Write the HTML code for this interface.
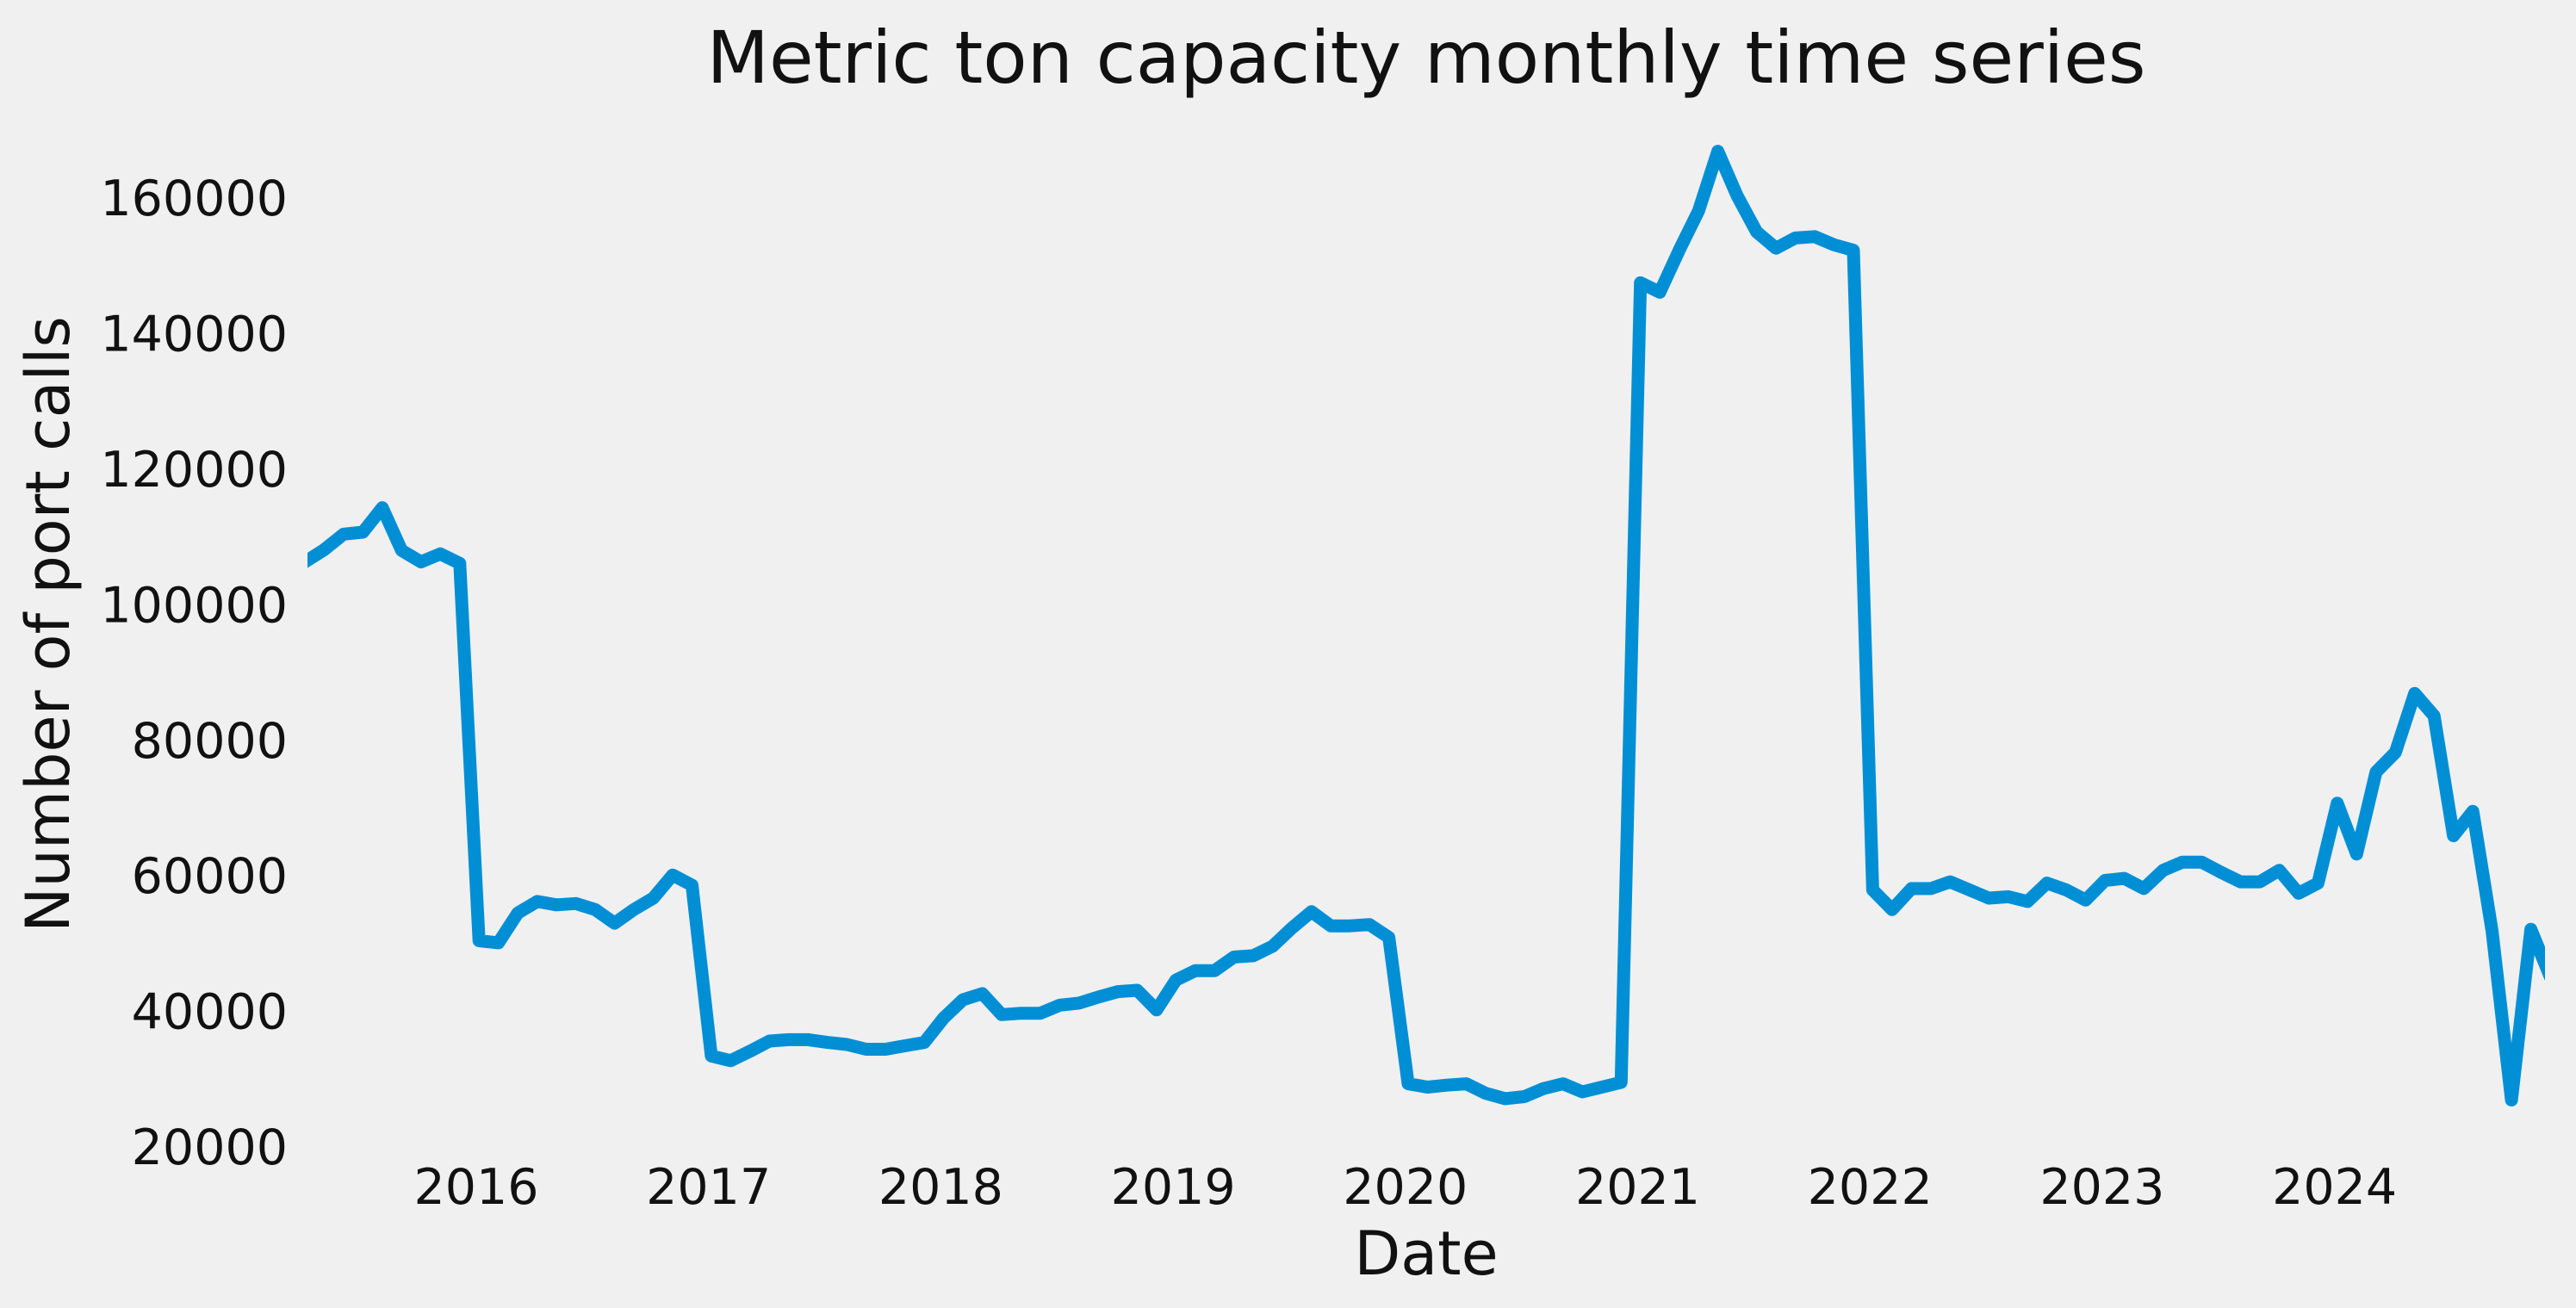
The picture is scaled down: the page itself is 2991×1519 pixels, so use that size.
<!DOCTYPE html>
<html><head><meta charset="utf-8"><style>
html,body{margin:0;padding:0;background:#f0f0f0;}
svg{display:block;font-family:"DejaVu Sans","Liberation Sans",sans-serif;}
</style></head><body>
<svg id="chart" width="2991" height="1519" viewBox="0 0 2991 1519" xmlns="http://www.w3.org/2000/svg">
<rect width="2991" height="1519" fill="#f0f0f0"/>
<text x="1656" y="96" font-size="84" text-anchor="middle" fill="#111">Metric ton capacity monthly time series</text>
<text x="1656" y="1480" font-size="70" text-anchor="middle" fill="#111">Date</text>
<text transform="translate(80,725) rotate(-90)" font-size="70" text-anchor="middle" fill="#111">Number of port calls</text>
<g id="yticks"></g>
<g id="xticks"></g>
<defs><clipPath id="clip"><rect x="357" y="0" width="2598" height="1519"/></clipPath></defs>
<g clip-path="url(#clip)"><path id="series" fill="none" stroke="#008fd5" stroke-width="15" stroke-linejoin="round" stroke-linecap="round"/></g>
</svg>
<script>
// Monthly values starting April 2015
const startYear = 2015;
const startMonth = 3; // 0-based, April
const values = [106200,108000,110300,110600,114200,107900,106200,107400,106000,
50300,50000,54400,56100,55600,55800,54900,52900,54900,56600,60000,58500,
33300,32600,34000,35500,35700,35700,35300,35000,34300,34300,34800,35300,
38900,41600,42500,39400,39600,39600,40800,41100,42000,42800,43000,40100,
44500,45900,45900,47900,48100,49500,52200,54600,52500,52500,52700,50800,
29200,28700,29000,29200,27800,27000,27300,28500,29200,28000,28700,29400,
147400,146000,152200,158000,166800,160200,154900,152500,154000,154200,153000,152200,
57800,54900,58000,58000,59000,57800,56600,56800,56100,58800,57800,56300,
59200,59500,58000,60700,61900,61900,60400,59000,59000,60700,57300,58800,
70600,63100,75200,78100,86800,83500,65800,69400,51700,26800,52000,45000];
const yTickValues = [20000,40000,60000,80000,100000,120000,140000,160000];
const xTickYears = [2016,2017,2018,2019,2020,2021,2022,2023,2024];

const NS = "http://www.w3.org/2000/svg";
function xScale(yearFrac){ return 553 + (yearFrac - 2016) * 269.7; }
function yScale(v){ return 1331 - (v - 20000) / 20000 * 157.4; }
function dateOf(i){ return startYear + (startMonth + i) / 12 + 0.012; }

let d = "";
values.forEach((v,i)=>{ d += (i? "L":"M") + xScale(dateOf(i)).toFixed(1) + "," + yScale(v).toFixed(1); });
document.getElementById("series").setAttribute("d", d);

const yg = document.getElementById("yticks");
yTickValues.forEach(v=>{
  const t = document.createElementNS(NS,"text");
  t.setAttribute("x", 334);
  t.setAttribute("y", yScale(v) + 21);
  t.setAttribute("font-size", "57");
  t.setAttribute("text-anchor", "end");
  t.setAttribute("fill", "#111");
  
  
  t.textContent = v;
  yg.appendChild(t);
});
const xg = document.getElementById("xticks");
xTickYears.forEach(y=>{
  const t = document.createElementNS(NS,"text");
  t.setAttribute("x", xScale(y));
  t.setAttribute("y", 1398);
  t.setAttribute("font-size", "57");
  t.setAttribute("text-anchor", "middle");
  t.setAttribute("fill", "#111");
  
  
  t.textContent = y;
  xg.appendChild(t);
});
</script>
</body></html>
